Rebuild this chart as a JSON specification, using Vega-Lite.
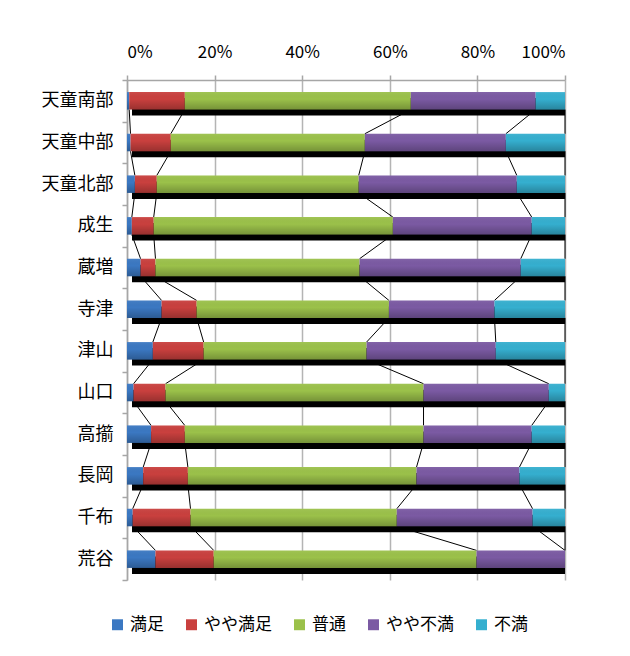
{
  "$schema": "https://vega.github.io/schema/vega-lite/v6.json",
  "width": 438,
  "height": 500,
  "autosize": {"type": "none"},
  "padding": {"left": 127, "top": 80, "right": 65, "bottom": 76},
  "background": "white",
  "config": {
    "font": "Noto Sans CJK JP",
    "view": {"stroke": null}
  },
  "data": {
    "values": [
      {"region": "天童南部", "no": 1, "category": "満足", "k": 1, "value": 0.5},
      {"region": "天童南部", "no": 1, "category": "やや満足", "k": 2, "value": 12.7},
      {"region": "天童南部", "no": 1, "category": "普通", "k": 3, "value": 51.6},
      {"region": "天童南部", "no": 1, "category": "やや不満", "k": 4, "value": 28.5},
      {"region": "天童南部", "no": 1, "category": "不満", "k": 5, "value": 6.7},
      {"region": "天童中部", "no": 2, "category": "満足", "k": 1, "value": 0.8},
      {"region": "天童中部", "no": 2, "category": "やや満足", "k": 2, "value": 9.2},
      {"region": "天童中部", "no": 2, "category": "普通", "k": 3, "value": 44.3},
      {"region": "天童中部", "no": 2, "category": "やや不満", "k": 4, "value": 32.2},
      {"region": "天童中部", "no": 2, "category": "不満", "k": 5, "value": 13.5},
      {"region": "天童北部", "no": 3, "category": "満足", "k": 1, "value": 1.8},
      {"region": "天童北部", "no": 3, "category": "やや満足", "k": 2, "value": 5.0},
      {"region": "天童北部", "no": 3, "category": "普通", "k": 3, "value": 46.1},
      {"region": "天童北部", "no": 3, "category": "やや不満", "k": 4, "value": 36.1},
      {"region": "天童北部", "no": 3, "category": "不満", "k": 5, "value": 11.0},
      {"region": "成生", "no": 4, "category": "満足", "k": 1, "value": 1.1},
      {"region": "成生", "no": 4, "category": "やや満足", "k": 2, "value": 5.0},
      {"region": "成生", "no": 4, "category": "普通", "k": 3, "value": 54.6},
      {"region": "成生", "no": 4, "category": "やや不満", "k": 4, "value": 31.7},
      {"region": "成生", "no": 4, "category": "不満", "k": 5, "value": 7.6},
      {"region": "蔵増", "no": 5, "category": "満足", "k": 1, "value": 3.1},
      {"region": "蔵増", "no": 5, "category": "やや満足", "k": 2, "value": 3.4},
      {"region": "蔵増", "no": 5, "category": "普通", "k": 3, "value": 46.6},
      {"region": "蔵増", "no": 5, "category": "やや不満", "k": 4, "value": 36.8},
      {"region": "蔵増", "no": 5, "category": "不満", "k": 5, "value": 10.1},
      {"region": "寺津", "no": 6, "category": "満足", "k": 1, "value": 7.9},
      {"region": "寺津", "no": 6, "category": "やや満足", "k": 2, "value": 8.0},
      {"region": "寺津", "no": 6, "category": "普通", "k": 3, "value": 43.9},
      {"region": "寺津", "no": 6, "category": "やや不満", "k": 4, "value": 24.1},
      {"region": "寺津", "no": 6, "category": "不満", "k": 5, "value": 16.1},
      {"region": "津山", "no": 7, "category": "満足", "k": 1, "value": 5.9},
      {"region": "津山", "no": 7, "category": "やや満足", "k": 2, "value": 11.6},
      {"region": "津山", "no": 7, "category": "普通", "k": 3, "value": 37.2},
      {"region": "津山", "no": 7, "category": "やや不満", "k": 4, "value": 29.5},
      {"region": "津山", "no": 7, "category": "不満", "k": 5, "value": 15.8},
      {"region": "山口", "no": 8, "category": "満足", "k": 1, "value": 1.5},
      {"region": "山口", "no": 8, "category": "やや満足", "k": 2, "value": 7.3},
      {"region": "山口", "no": 8, "category": "普通", "k": 3, "value": 58.9},
      {"region": "山口", "no": 8, "category": "やや不満", "k": 4, "value": 28.6},
      {"region": "山口", "no": 8, "category": "不満", "k": 5, "value": 3.7},
      {"region": "高擶", "no": 9, "category": "満足", "k": 1, "value": 5.5},
      {"region": "高擶", "no": 9, "category": "やや満足", "k": 2, "value": 7.7},
      {"region": "高擶", "no": 9, "category": "普通", "k": 3, "value": 54.5},
      {"region": "高擶", "no": 9, "category": "やや不満", "k": 4, "value": 24.7},
      {"region": "高擶", "no": 9, "category": "不満", "k": 5, "value": 7.6},
      {"region": "長岡", "no": 10, "category": "満足", "k": 1, "value": 3.7},
      {"region": "長岡", "no": 10, "category": "やや満足", "k": 2, "value": 10.2},
      {"region": "長岡", "no": 10, "category": "普通", "k": 3, "value": 52.2},
      {"region": "長岡", "no": 10, "category": "やや不満", "k": 4, "value": 23.5},
      {"region": "長岡", "no": 10, "category": "不満", "k": 5, "value": 10.4},
      {"region": "千布", "no": 11, "category": "満足", "k": 1, "value": 1.3},
      {"region": "千布", "no": 11, "category": "やや満足", "k": 2, "value": 13.2},
      {"region": "千布", "no": 11, "category": "普通", "k": 3, "value": 47.1},
      {"region": "千布", "no": 11, "category": "やや不満", "k": 4, "value": 31.0},
      {"region": "千布", "no": 11, "category": "不満", "k": 5, "value": 7.4},
      {"region": "荒谷", "no": 12, "category": "満足", "k": 1, "value": 6.5},
      {"region": "荒谷", "no": 12, "category": "やや満足", "k": 2, "value": 13.3},
      {"region": "荒谷", "no": 12, "category": "普通", "k": 3, "value": 60.0},
      {"region": "荒谷", "no": 12, "category": "やや不満", "k": 4, "value": 20.2},
      {"region": "荒谷", "no": 12, "category": "不満", "k": 5, "value": 0}
    ]
  },
  "transform": [
    {"window": [{"op": "sum", "field": "value", "as": "cum"}], "groupby": ["region"], "sort": [{"field": "k"}], "frame": [null, 0]},
    {"window": [{"op": "lead", "field": "cum", "as": "nextCum"}, {"op": "lead", "field": "region", "as": "nextRegion"}], "groupby": ["category"], "sort": [{"field": "no"}], "frame": [null, null]}
  ],
  "encoding": {
    "y": {
      "field": "region",
      "type": "nominal",
      "title": null,
      "scale": {
        "domain": ["天童南部", "天童中部", "天童北部", "成生", "蔵増", "寺津", "津山", "山口", "高擶", "長岡", "千布", "荒谷"],
        "paddingInner": 0,
        "paddingOuter": 0
      },
      "axis": {
        "tickBand": "extent",
        "domainColor": "#A6A6A6",
        "domainWidth": 1.5,
        "tickColor": "#A6A6A6",
        "tickWidth": 1.5,
        "tickSize": 5,
        "labelFontSize": 18,
        "labelColor": "#000000",
        "labelPadding": 9,
        "grid": false
      }
    }
  },
  "layer": [
    {
      "transform": [{"filter": "datum.nextRegion != null"}],
      "mark": {"type": "rule", "color": "#000000", "strokeWidth": 1},
      "encoding": {
        "x": {"field": "cum", "type": "quantitative", "title": null},
        "x2": {"field": "nextCum"},
        "y": {"field": "region", "type": "nominal", "bandPosition": 0.71, "title": null},
        "y2": {"field": "nextRegion", "bandPosition": 0.29}
      }
    },
    {
      "transform": [{"filter": "datum.k == 1"}],
      "mark": {"type": "bar", "color": "#000000", "height": {"band": 0.42}, "xOffset": 5, "yOffset": 6},
      "encoding": {
        "x": {
          "datum": 0,
          "type": "quantitative",
          "scale": {"domain": [0, 100]},
          "title": null,
          "axis": {
            "orient": "top",
            "values": [0, 20, 40, 60, 80, 100],
            "labelExpr": "datum.value + '%'",
            "labelFontSize": 17,
            "labelColor": "#000000",
            "labelPadding": 14,
            "domainColor": "#A6A6A6",
            "domainWidth": 1.5,
            "tickColor": "#A6A6A6",
            "tickWidth": 1.5,
            "tickSize": 5,
            "grid": true,
            "gridColor": "#B4B4B4",
            "gridWidth": 1.5
          }
        },
        "x2": {"datum": 100}
      }
    },
    {
      "mark": {"type": "bar", "height": {"band": 0.42}},
      "encoding": {
        "x": {"field": "value", "type": "quantitative", "stack": "zero", "title": null},
        "color": {
          "field": "category",
          "type": "nominal",
          "scale": {
            "domain": ["満足", "やや満足", "普通", "やや不満", "不満"],
            "range": ["#3B78C2", "#C9403E", "#9BC14A", "#7B5AA3", "#35AFCF"]
          },
          "legend": {
            "orient": "none",
            "legendX": -18,
            "legendY": 536,
            "direction": "horizontal",
            "title": null,
            "labelFontSize": 17,
            "labelColor": "#000000",
            "symbolType": "square",
            "symbolSize": 120,
            "symbolStrokeWidth": 0,
            "symbolOpacity": 1,
            "columnPadding": 19
          }
        },
        "order": {"field": "k", "type": "quantitative"}
      }
    },
    {
      "mark": {
        "type": "bar",
        "height": {"band": 0.42},
        "color": {
          "gradient": "linear",
          "x1": 0, "y1": 0, "x2": 0, "y2": 1,
          "stops": [
            {"offset": 0, "color": "rgba(255,255,255,0.06)"},
            {"offset": 0.4, "color": "rgba(0,0,0,0)"},
            {"offset": 1, "color": "rgba(0,0,0,0.24)"}
          ]
        }
      },
      "encoding": {
        "x": {"field": "value", "type": "quantitative", "stack": "zero", "title": null},
        "detail": {"field": "category"},
        "order": {"field": "k", "type": "quantitative"}
      }
    }
  ]
}
